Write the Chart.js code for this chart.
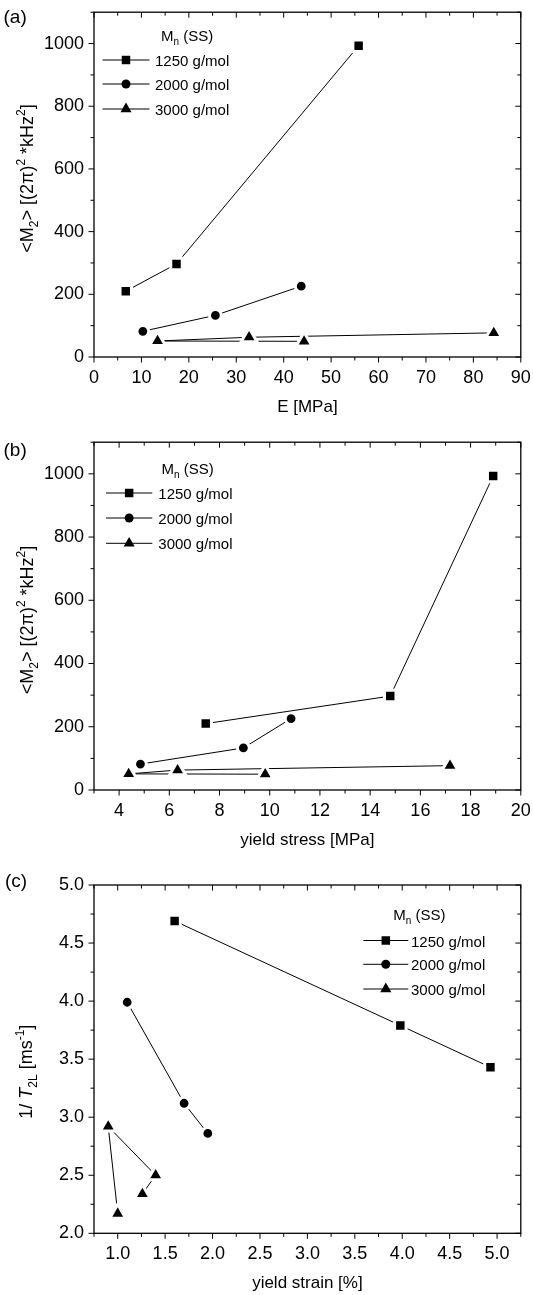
<!DOCTYPE html>
<html><head><meta charset="utf-8">
<script src="https://cdn.jsdelivr.net/npm/chart.js@4.4.1/dist/chart.umd.min.js"></script>
<style>
html,body{margin:0;padding:0;background:#fff;}
#wrap{position:relative;width:533px;height:1295px;overflow:hidden;}
canvas{position:absolute;left:0;}
</style></head><body>
<div id="wrap">
<canvas id="ca" width="533" height="430" style="top:0px"></canvas>
<canvas id="cb" width="533" height="430" style="top:430px"></canvas>
<canvas id="cc" width="533" height="435" style="top:860px"></canvas>
</div>
<script>
// ---------------- DATA ----------------
const seriesNames = ['1250 g/mol', '2000 g/mol', '3000 g/mol'];

// Panel (a): <M2> vs E [MPa]
const aX1250 = [6.7, 17.4, 55.8];
const aY1250 = [210, 297, 993];
const aX2000 = [10.3, 25.6, 43.7];
const aY2000 = [82, 133, 226];
const aX3000 = [44.3, 13.4, 32.7, 84.3];
const aY3000 = [50, 51, 63, 77];

// Panel (b): <M2> vs yield stress [MPa]
const bX1250 = [7.45, 14.8, 18.9];
const bY1250 = [210, 297, 993];
const bX2000 = [4.85, 8.95, 10.85];
const bY2000 = [82, 133, 226];
const bX3000 = [9.82, 4.38, 6.33, 17.18];
const bY3000 = [50, 51, 63, 77];

// Panel (c): 1/T2L vs yield strain [%]
const cX1250 = [1.6, 3.98, 4.93];
const cY1250 = [4.69, 3.79, 3.43];
const cX2000 = [1.1, 1.7, 1.95];
const cY2000 = [3.99, 3.12, 2.86];
const cX3000 = [1.0, 0.9, 1.4, 1.26];
const cY3000 = [2.17, 2.92, 2.50, 2.34];

// Tick labels
const aXTicks = [0, 10, 20, 30, 40, 50, 60, 70, 80, 90];
const aYTicks = [0, 200, 400, 600, 800, 1000];
const bXTicks = [4, 6, 8, 10, 12, 14, 16, 18, 20];
const bYTicks = [0, 200, 400, 600, 800, 1000];
const cXTicks = [1.0, 1.5, 2.0, 2.5, 3.0, 3.5, 4.0, 4.5, 5.0];
const cYTicks = [2.0, 2.5, 3.0, 3.5, 4.0, 4.5, 5.0];

// Minor tick positions
const aXMinor = [5, 15, 25, 35, 45, 55, 65, 75, 85];
const aYMinor = [100, 300, 500, 700, 900, 1100];
const bXMinor = [3, 5, 7, 9, 11, 13, 15, 17, 19];
const bYMinor = [100, 300, 500, 700, 900, 1100];
const cXMinor = [0.75, 1.25, 1.75, 2.25, 2.75, 3.25, 3.75, 4.25, 4.75, 5.25];
const cYMinor = [2.25, 2.75, 3.25, 3.75, 4.25, 4.75];

// ---------------- STYLE / HELPERS ----------------
const FONT = '"Liberation Sans", Arial, Helvetica, sans-serif';
const styles = [
  {pointStyle: 'rect', radius: 8.1, legendRadius: 6},
  {pointStyle: 'circle', radius: 5.9, legendRadius: 4.5},
  {pointStyle: 'triangle', radius: 9.2, legendRadius: 6.4}
];

function pts(xs, ys) { return xs.map((x, i) => ({x: x, y: ys[i]})); }

function makeDatasets(sets) {
  return sets.map((s, i) => ({
    label: seriesNames[i],
    data: pts(s[0], s[1]),
    showLine: true,
    borderColor: '#000',
    borderWidth: 1,
    tension: 0,
    pointStyle: styles[i].pointStyle,
    pointRadius: styles[i].radius,
    pointHoverRadius: styles[i].radius,
    pointBackgroundColor: '#000',
    pointBorderColor: '#fff',
    pointBorderWidth: 3
  }));
}

function measureRich(ctx, segs, size, subSize) {
  let w = 0;
  const parts = segs.map(s => {
    const sz = (s.sub || s.sup) ? subSize : size;
    const f = (s.it ? 'italic ' : '') + sz + 'px ' + FONT;
    ctx.font = f;
    const mw = ctx.measureText(s.t).width;
    const p = {s: s, f: f, w: mw, dy: s.sub ? size * 0.28 : (s.sup ? -size * 0.42 : 0)};
    w += mw;
    return p;
  });
  return {w: w, parts: parts};
}
function fillRich(ctx, segs, size, subSize, x, y, center) {
  const r = measureRich(ctx, segs, size, subSize);
  let cx = center ? x - r.w / 2 : x;
  ctx.textBaseline = 'alphabetic';
  ctx.textAlign = 'left';
  r.parts.forEach(p => {
    ctx.font = p.f;
    ctx.fillText(p.s.t, cx, y + p.dy);
    cx += p.w;
  });
}

const deco = {
  id: 'deco',
  afterDraw(chart, args, o) {
    const ctx = chart.ctx;
    const {left, right, top, bottom} = chart.chartArea;
    const xs = chart.scales.x, ys = chart.scales.y;
    ctx.save();
    ctx.strokeStyle = '#000';
    ctx.fillStyle = '#000';
    ctx.lineWidth = 1;
    const tk = (list, len, isX) => {
      list.forEach(v => {
        if (isX) {
          const p = xs.getPixelForValue(v);
          ctx.beginPath();
          ctx.moveTo(p, bottom); ctx.lineTo(p, bottom + len);
          ctx.moveTo(p, top); ctx.lineTo(p, top + len);
          ctx.stroke();
        } else {
          const p = ys.getPixelForValue(v);
          ctx.beginPath();
          ctx.moveTo(left, p); ctx.lineTo(left - len, p);
          ctx.moveTo(right, p); ctx.lineTo(right - len, p);
          ctx.stroke();
        }
      });
    };
    tk(o.xMajor, 5.5, true); tk(o.xMinor, 3.5, true);
    tk(o.yMajor, 5.5, false); tk(o.yMinor, 3.5, false);
    ctx.lineWidth = 1.3;
    ctx.strokeRect(left, top, right - left, bottom - top);

    // panel label
    ctx.font = '19px ' + FONT;
    ctx.textAlign = 'left'; ctx.textBaseline = 'alphabetic';
    ctx.fillText(o.panel, o.panelX, o.panelY);

    // y title (rotated, rich)
    ctx.save();
    ctx.translate(o.yTitleX, o.yTitleC);
    ctx.rotate(-Math.PI / 2);
    fillRich(ctx, o.yTitle, 18, 12, 0, 0, true);
    ctx.restore();

    // legend
    const L = o.legend;
    fillRich(ctx, [{t: 'M'}, {t: 'n', sub: true}, {t: ' (SS)'}], 15, 10, L.titleX, L.titleY, false);
    chart.data.datasets.forEach((ds, i) => {
      const y = L.rows[i];
      ctx.lineWidth = 1;
      ctx.strokeStyle = '#000';
      ctx.beginPath();
      ctx.moveTo(L.x0, y); ctx.lineTo(L.x1, y); ctx.stroke();
      ctx.fillStyle = '#000';
      Chart.helpers.drawPoint(ctx, {pointStyle: styles[i].pointStyle, radius: styles[i].legendRadius, rotation: 0, borderWidth: 0}, (L.x0 + L.x1) / 2, y);
      ctx.font = '15px ' + FONT;
      ctx.textAlign = 'left'; ctx.textBaseline = 'alphabetic';
      ctx.fillText(ds.label, L.tx, y + 6);
    });
    ctx.restore();
  }
};

function makeChart(id, H, cfg) {
  const top = cfg.plotTop, bottom = cfg.plotBottom;
  return new Chart(document.getElementById(id), {
    type: 'scatter',
    data: {datasets: makeDatasets(cfg.sets)},
    plugins: [deco],
    options: {
      responsive: false,
      animation: false,
      events: [],
      layout: {padding: {left: 0, right: 533 - 522, top: top, bottom: 0}},
      plugins: {
        legend: {display: false},
        tooltip: {enabled: false},
        deco: cfg.deco
      },
      scales: {
        x: {
          type: 'linear', position: 'bottom',
          min: cfg.xMin, max: cfg.xMax,
          afterBuildTicks: s => { s.ticks = cfg.xTicks.map(v => ({value: v})); },
          afterFit: s => { s.height = H - bottom; s.paddingLeft = 0; s.paddingRight = 0; s.paddingTop = 0; s.paddingBottom = 0; },
          grid: {display: false, drawTicks: false, tickLength: 0},
          border: {display: false},
          ticks: {
            color: '#000', padding: 10, maxRotation: 0, autoSkip: false,
            font: {family: FONT, size: 18},
            callback: cfg.xFmt
          },
          title: {
            display: true, text: cfg.xTitle, color: '#000',
            font: {family: FONT, size: 17},
            padding: {top: 0, bottom: cfg.xTitlePad}
          }
        },
        y: {
          type: 'linear', position: 'left',
          min: cfg.yMin, max: cfg.yMax,
          afterBuildTicks: s => { s.ticks = cfg.yTicks.map(v => ({value: v})); },
          afterFit: s => { s.width = 94; s.paddingLeft = 0; s.paddingRight = 0; s.paddingTop = 0; s.paddingBottom = 0; },
          grid: {display: false, drawTicks: false, tickLength: 0},
          border: {display: false},
          ticks: {
            color: '#000', padding: 10, autoSkip: false,
            font: {family: FONT, size: 18},
            callback: cfg.yFmt
          }
        }
      }
    }
  });
}

const intFmt = v => String(v);
const oneDec = v => Number(v).toFixed(1);
const M2Title = [{t: '<M'}, {t: '2', sub: true}, {t: '> [(2π)'}, {t: '2', sup: true}, {t: ' *kHz'}, {t: '2', sup: true}, {t: ']'}];

makeChart('ca', 430, {
  sets: [[aX1250, aY1250], [aX2000, aY2000], [aX3000, aY3000]],
  plotTop: 8.3, plotBottom: 357,
  xMin: 0, xMax: 90, yMin: 0, yMax: 1100,
  xTicks: aXTicks, yTicks: aYTicks, xFmt: intFmt, yFmt: intFmt,
  xTitle: 'E [MPa]', xTitlePad: 12.8,
  deco: {
    xMajor: aXTicks, xMinor: aXMinor, yMajor: aYTicks, yMinor: aYMinor,
    panel: '(a)', panelX: 3.5, panelY: 23,
    yTitle: M2Title, yTitleX: 33, yTitleC: 178.5,
    legend: {titleX: 161, titleY: 40.5, rows: [60, 84, 109], x0: 102.5, x1: 149.5, tx: 155}
  }
});

makeChart('cb', 430, {
  sets: [[bX1250, bY1250], [bX2000, bY2000], [bX3000, bY3000]],
  plotTop: 11.7, plotBottom: 360,
  xMin: 3, xMax: 20, yMin: 0, yMax: 1100,
  xTicks: bXTicks, yTicks: bYTicks, xFmt: intFmt, yFmt: intFmt,
  xTitle: 'yield stress [MPa]', xTitlePad: 9.8,
  deco: {
    xMajor: bXTicks, xMinor: bXMinor, yMajor: bYTicks, yMinor: bYMinor,
    panel: '(b)', panelX: 3.5, panelY: 25.5,
    yTitle: M2Title, yTitleX: 33, yTitleC: 190,
    legend: {titleX: 161.5, titleY: 44, rows: [63, 88, 113.3], x0: 106, x1: 152.3, tx: 158.3}
  }
});

makeChart('cc', 435, {
  sets: [[cX1250, cY1250], [cX2000, cY2000], [cX3000, cY3000]],
  plotTop: 25, plotBottom: 373.3,
  xMin: 0.75, xMax: 5.25, yMin: 2.0, yMax: 5.0,
  xTicks: cXTicks, yTicks: cYTicks, xFmt: oneDec, yFmt: oneDec,
  xTitle: 'yield strain [%]', xTitlePad: 1.3,
  deco: {
    xMajor: cXTicks, xMinor: cXMinor, yMajor: cYTicks, yMinor: cYMinor,
    panel: '(c)', panelX: 5, panelY: 27,
    yTitle: [{t: '1/ '}, {t: 'T', it: true}, {t: '2L', sub: true}, {t: ' [ms'}, {t: '-1', sup: true}, {t: ']'}],
    yTitleX: 32, yTitleC: 211.7,
    legend: {titleX: 393.3, titleY: 60, rows: [80.5, 104.3, 129], x0: 363.3, x1: 408.3, tx: 411}
  }
});
</script>
</body></html>
